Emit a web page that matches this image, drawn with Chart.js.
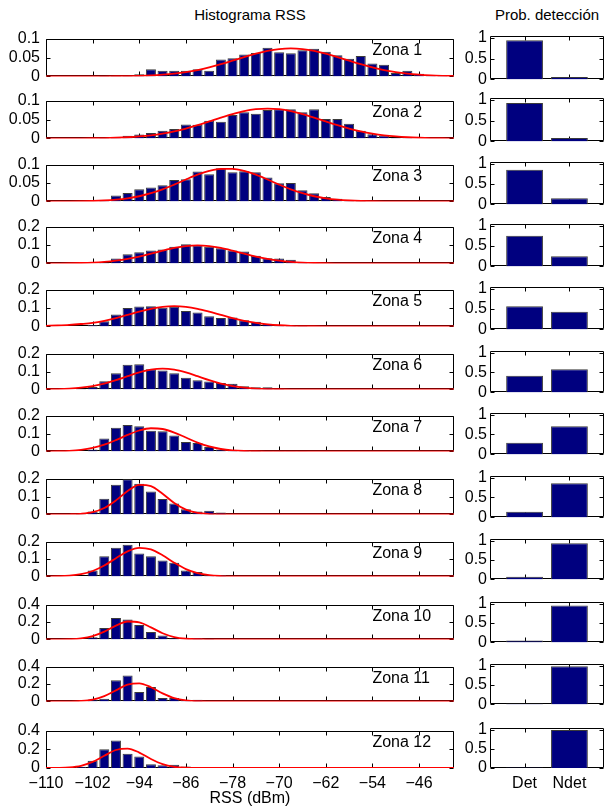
<!DOCTYPE html>
<html>
<head>
<meta charset="utf-8">
<script src="https://cdn.jsdelivr.net/npm/chart.js@4.4.1/dist/chart.umd.min.js"></script>
<style>
  body { margin: 0; background: #fff; width: 606px; height: 810px; position: relative; overflow: hidden; }
  canvas { position: absolute; }
  .titulo { position: absolute; top: 6px; height: 18px; line-height: 18px; text-align: center; white-space: nowrap;
            font: 15px "Liberation Sans", Arial, Helvetica, sans-serif; color: #000; }
</style>
</head>
<body>
<div class="titulo" style="left:100px;width:300px">Histograma RSS</div>
<div class="titulo" style="left:447px;width:200px">Prob. detección</div>
<script>
// Centros dos bins do histograma (dBm)
const bins = [-104, -102, -100, -98, -96, -94, -92, -90, -88, -86, -84, -82, -80, -78, -76, -74,
              -72, -70, -68, -66, -64, -62, -60, -58, -56, -54, -52, -50, -48, -46, -44, -42];

// Frequência relativa por zona (mesma ordem de bins)
const histZona1 = [0, 0, .001, .001, .001, .006, .019, .015, .015, .015, .019, .015, .045, .048, .058, .062,
                   .076, .064, .061, .069, .073, .065, .056, .047, .054, .034, .031, .009, .015, .007, .004, .002];
const histZona2 = [0, 0, .001, .004, .007, .010, .014, .020, .025, .037, .036, .047, .044, .062, .069, .065,
                   .075, .077, .077, .069, .077, .051, .051, .039, .020, .011, .008, .002, .001, 0, 0, 0];
const histZona3 = [0, 0, .002, .016, .023, .033, .038, .044, .058, .060, .081, .074, .090, .079, .082, .079,
                   .065, .049, .050, .030, .022, .012, .007, .004, .001, 0, 0, 0, 0, 0, 0, 0];
const histZona4 = [0, 0, .004, .027, .050, .060, .070, .076, .090, .104, .098, .090, .082, .070, .064, .042,
                   .028, .026, .020, .004, .001, 0, 0, 0, 0, 0, 0, 0, 0, 0, 0, 0];
const histZona5 = [0, .007, .028, .065, .100, .108, .109, .102, .107, .084, .075, .055, .045, .048, .034, .025,
                   .015, .008, .004, .002, 0, 0, 0, 0, 0, 0, 0, 0, 0, 0, 0, 0];
const histZona6 = [.002, .013, .045, .090, .138, .141, .113, .105, .090, .065, .051, .044, .036, .031, .017, .012,
                   .012, .004, 0, 0, 0, 0, 0, 0, 0, 0, 0, 0, 0, 0, 0, 0];
const histZona7 = [0, .010, .072, .132, .148, .141, .115, .112, .089, .052, .047, .024, .010, .006, .006, .002,
                   .001, .001, .001, .001, 0, 0, 0, 0, 0, 0, 0, 0, 0, 0, 0, 0];
const histZona8 = [.002, .016, .088, .165, .197, .171, .128, .086, .061, .029, .016, .021, .010, 0, 0, 0,
                   0, 0, 0, 0, 0, 0, 0, 0, 0, 0, 0, 0, 0, 0, 0, 0];
const histZona9 = [0, .034, .116, .165, .182, .132, .116, .092, .079, .034, .026, .008, .008, 0, 0, 0,
                   0, 0, 0, 0, 0, 0, 0, 0, 0, 0, 0, 0, 0, 0, 0, 0];
const histZona10 = [0, .026, .132, .247, .230, .166, .085, .045, .013, .003, .016, .008, 0, 0, 0, 0,
                    0, 0, 0, 0, 0, 0, 0, 0, 0, 0, 0, 0, 0, 0, 0, 0];
const histZona11 = [0, .021, .030, .242, .297, .108, .165, .040, .040, .019, .019, 0, 0, 0, 0, 0,
                    0, 0, 0, 0, 0, 0, 0, 0, 0, 0, 0, 0, 0, 0, 0, 0];
const histZona12 = [.013, .077, .200, .293, .152, .123, .039, .029, .035, .016, 0, 0, 0, 0, 0, 0,
                    0, 0, 0, 0, 0, 0, 0, 0, 0, 0, 0, 0, 0, 0, 0, 0];

// Pontos da curva ajustada (vermelha), lidos a cada 2 dBm
const curvaX = [-110, -108, -106, -104, -102, -100, -98, -96, -94, -92, -90, -88, -86, -84, -82, -80, -78, -76,
                -74, -72, -70, -68, -66, -64, -62, -60, -58, -56, -54, -52, -50, -48, -46, -44, -42, -40];
const ajusteZona1 = [0, 0, 0, 0, .0001, .0002, .0004, .0008, .0015, .0026, .0045, .0073, .0114, .0169, .0239, .0322, .0415, .0511,
                     .0601, .0675, .0723, .074, .0723, .0675, .0601, .0511, .0415, .0322, .0239, .0169, .0114, .0073, .0045, .0026, .0015, .0008];
const ajusteZona2 = [0, .0001, .0001, .0002, .0005, .0009, .0017, .003, .0051, .0082, .0127, .0186, .026, .035, .0449, .055, .0644, .0722,
                     .0772, .079, .0772, .0722, .0644, .055, .0449, .035, .026, .0186, .0127, .0082, .0051, .003, .0017, .0009, .0005, .0002];
const ajusteZona3 = [0, .0001, .0002, .0005, .0011, .0024, .0046, .0083, .014, .0222, .0329, .0457, .0595, .0725, .0827, .0883, .0883, .0827,
                     .0725, .0595, .0457, .0329, .0222, .014, .0083, .0046, .0024, .0011, .0005, .0002, .0001, 0, 0, 0, 0, 0];
const ajusteZona4 = [.0001, .0004, .0009, .0021, .0043, .0083, .0148, .0244, .0374, .0529, .0693, .084, .0943, .098, .0943, .084, .0693, .0529,
                     .0374, .0244, .0148, .0083, .0043, .0021, .0009, .0004, .0001, 0, 0, 0, 0, 0, 0, 0, 0, 0];
const ajusteZona5 = [.003, .005, .008, .013, .0193, .0306, .0452, .0623, .0799, .0954, .1061, .11, .1061, .0954, .0799, .0623, .0452, .0306,
                     .0193, .0113, .0062, .0031, .0015, .0007, .0003, .0001, 0, 0, 0, 0, 0, 0, 0, 0, 0, 0];
const ajusteZona6 = [.0008, .002, .0046, .0098, .0189, .0329, .0518, .0737, .0948, .1103, .116, .1103, .0948, .0737, .0518, .0329, .0189, .0098,
                     .0046, .002, .0008, .0003, .0001, 0, 0, 0, 0, 0, 0, 0, 0, 0, 0, 0, 0, 0];
const ajusteZona7 = [.0004, .0012, .0035, .0089, .0196, .0376, .063, .0919, .1168, .1294, .1251, .1054, .0774, .0495, .0276, .0134, .0057, .0021,
                     .0007, .0002, 0, 0, 0, 0, 0, 0, 0, 0, 0, 0, 0, 0, 0, 0, 0, 0];
const ajusteZona8 = [0, .0001, .0006, .0032, .0122, .0356, .0783, .1306, .1652, .1584, .1152, .0636, .0266, .0084, .002, .0004, .0001, 0,
                     0, 0, 0, 0, 0, 0, 0, 0, 0, 0, 0, 0, 0, 0, 0, 0, 0, 0];
const ajusteZona9 = [.0003, .0012, .0043, .0128, .0311, .0627, .1044, .144, .1644, .1553, .1215, .0786, .0421, .0187, .0069, .0021, .0005, .0001,
                     0, 0, 0, 0, 0, 0, 0, 0, 0, 0, 0, 0, 0, 0, 0, 0, 0, 0];
const ajusteZona10 = [0, .0004, .0025, .0113, .0372, .0895, .1585, .206, .1967, .138, .071, .0268, .0074, .0015, .0002, 0, 0, 0,
                      0, 0, 0, 0, 0, 0, 0, 0, 0, 0, 0, 0, 0, 0, 0, 0, 0, 0];
const ajusteZona11 = [0, .0001, .0009, .0053, .021, .0611, .1274, .1916, .2079, .1627, .0918, .0375, .011, .0023, .0004, .0001, 0, 0,
                      0, 0, 0, 0, 0, 0, 0, 0, 0, 0, 0, 0, 0, 0, 0, 0, 0, 0];
const ajusteZona12 = [.0002, .0013, .0065, .024, .0653, .1309, .1925, .208, .165, .0961, .0411, .0129, .003, .0005, .0001, 0, 0, 0,
                      0, 0, 0, 0, 0, 0, 0, 0, 0, 0, 0, 0, 0, 0, 0, 0, 0, 0];

// Probabilidade de detecção por zona
const probLabels = ['Det', 'Ndet'];
const probDet  = [0.94, 0.92, 0.85, 0.75, 0.57, 0.42, 0.29, 0.14, 0.07, 0.05, 0.02, 0.01];
const probNdet = [0.06, 0.08, 0.15, 0.25, 0.43, 0.58, 0.71, 0.86, 0.93, 0.95, 0.98, 0.99];

// Rótulos das zonas e marcas dos eixos
const nomesZonas = ['Zona 1', 'Zona 2', 'Zona 3', 'Zona 4', 'Zona 5', 'Zona 6',
                    'Zona 7', 'Zona 8', 'Zona 9', 'Zona 10', 'Zona 11', 'Zona 12'];
const rssTicks = [-110, -102, -94, -86, -78, -70, -62, -54, -46];
const ticksY01 = [0, 0.05, 0.1];
const ticksY02 = [0, 0.1, 0.2];
const ticksY04 = [0, 0.2, 0.4];
const probTicks = [0, 0.5, 1];

const histogramas = [histZona1, histZona2, histZona3, histZona4, histZona5, histZona6,
                     histZona7, histZona8, histZona9, histZona10, histZona11, histZona12];
const ajustes = [ajusteZona1, ajusteZona2, ajusteZona3, ajusteZona4, ajusteZona5, ajusteZona6,
                 ajusteZona7, ajusteZona8, ajusteZona9, ajusteZona10, ajusteZona11, ajusteZona12];
const ticksPorZona = [ticksY01, ticksY01, ticksY01, ticksY02, ticksY02, ticksY02,
                      ticksY02, ticksY02, ticksY02, ticksY04, ticksY04, ticksY04];

const fonte = '"Liberation Sans", Arial, Helvetica, sans-serif';
Chart.defaults.font.family = fonte;
Chart.defaults.color = '#000';

const azul = '#00007f';
const contorno = '#3a3a3a';

// Formata números com o sinal de menos tipográfico
function formata(v) {
    const s = String(+v.toFixed(3));
    return v < 0 ? '\u2212' + s.slice(1) : s;
}

// Caixa em volta do gráfico com marcas para dentro (estilo MATLAB)
const caixaEixos = {
    id: 'caixaEixos',
    beforeDatasetsDraw(chart) {
        const { ctx, chartArea: a } = chart;
        const x = chart.scales.x, y = chart.scales.y;
        const L = Math.round(a.left) + 0.5, R = Math.round(a.right) - 0.5;
        const T = Math.round(a.top) + 0.5, B = Math.round(a.bottom) - 0.5;
        const tam = 4;
        ctx.save();
        ctx.strokeStyle = '#000';
        ctx.lineWidth = 1;
        ctx.beginPath();
        ctx.rect(L, T, R - L, B - T);
        x.ticks.forEach(t => {
            const px = Math.round(x.getPixelForValue(t.value)) + 0.5;
            ctx.moveTo(px, B); ctx.lineTo(px, B - tam);
            ctx.moveTo(px, T); ctx.lineTo(px, T + tam);
        });
        y.ticks.forEach(t => {
            const py = Math.round(y.getPixelForValue(t.value)) + 0.5;
            ctx.moveTo(L, py); ctx.lineTo(L + tam, py);
            ctx.moveTo(R, py); ctx.lineTo(R - tam, py);
        });
        ctx.stroke();
        ctx.restore();
    }
};

// Texto "Zona N" dentro do gráfico
const rotuloZona = {
    id: 'rotuloZona',
    afterDatasetsDraw(chart, args, opts) {
        if (!opts.texto) return;
        const { ctx, chartArea: a } = chart;
        ctx.save();
        ctx.font = '16px ' + fonte;
        ctx.fillStyle = '#000';
        ctx.textBaseline = 'middle';
        ctx.textAlign = 'left';
        ctx.fillText(opts.texto, chart.scales.x.getPixelForValue(opts.x), a.top + 12);
        ctx.restore();
    }
};

function criaCanvas(left, top, width, height) {
    const c = document.createElement('canvas');
    c.width = width; c.height = height;
    c.style.left = left + 'px'; c.style.top = top + 'px';
    c.style.width = width + 'px'; c.style.height = height + 'px';
    document.body.appendChild(c);
    return c;
}

nomesZonas.forEach((nome, i) => {
    const ultima = i === nomesZonas.length - 1;
    const base = Math.round(79.8 + 62.54 * i);
    const alturaEixo = Math.round(45 - 0.33 * i);
    const topo = base - alturaEixo;
    const padTopo = 12;
    const padBase = ultima ? 0 : 12;
    const alturaX = ultima ? 40 : 0;
    const alturaCanvas = padTopo + alturaEixo + alturaX + padBase;
    const ticksY = ticksPorZona[i];

    // Histograma RSS + curva ajustada
    const c1 = criaCanvas(0, topo - padTopo, 460, alturaCanvas);
    new Chart(c1, {
        type: 'bar',
        data: {
            datasets: [{
                type: 'line',
                data: curvaX.map((x, k) => ({ x: x, y: ajustes[i][k] })),
                borderColor: '#ff0000',
                borderWidth: 1.8,
                pointRadius: 0,
                cubicInterpolationMode: 'monotone',
                fill: false
            }, {
                type: 'bar',
                data: bins.map((x, k) => ({ x: x, y: histogramas[i][k] })).filter(p => p.y > 0),
                backgroundColor: azul,
                borderColor: contorno,
                borderWidth: 1,
                barPercentage: 1,
                categoryPercentage: 0.86
            }]
        },
        options: {
            animation: false,
            responsive: false,
            devicePixelRatio: 1,
            layout: { padding: { top: padTopo, bottom: padBase, left: 0, right: 6 } },
            plugins: {
                legend: { display: false },
                tooltip: { enabled: false },
                rotuloZona: { texto: nome, x: -54 }
            },
            scales: {
                x: {
                    type: 'linear',
                    min: -110,
                    max: -40,
                    offset: false,
                    grid: { display: false, drawTicks: false, offset: false },
                    border: { display: false },
                    ticks: { display: ultima, autoSkip: false, font: { size: 16 }, padding: 6, maxRotation: 0, callback: v => formata(v) },
                    afterBuildTicks: s => { s.ticks = rssTicks.map(v => ({ value: v })); },
                    afterFit: s => { s.height = alturaX; },
                    title: { display: ultima, text: 'RSS (dBm)', font: { size: 16 }, padding: { top: 0, bottom: 0 } }
                },
                y: {
                    min: 0,
                    max: ticksY[ticksY.length - 1],
                    grid: { display: false, drawTicks: false },
                    border: { display: false },
                    ticks: { autoSkip: false, font: { size: 16 }, padding: 6, callback: v => formata(v) },
                    afterBuildTicks: s => { s.ticks = ticksY.map(v => ({ value: v })); },
                    afterFit: s => { s.width = 46; }
                }
            }
        },
        plugins: [caixaEixos, rotuloZona]
    });

    // Probabilidade de detecção
    const c2 = criaCanvas(460, topo - padTopo, 146, alturaCanvas);
    new Chart(c2, {
        type: 'bar',
        data: {
            datasets: [{
                data: probLabels.map((_, k) => ({ x: k + 1, y: k === 0 ? probDet[i] : probNdet[i] })),
                backgroundColor: azul,
                borderColor: contorno,
                borderWidth: 1,
                barPercentage: 0.82,
                categoryPercentage: 1
            }]
        },
        options: {
            animation: false,
            responsive: false,
            devicePixelRatio: 1,
            layout: { padding: { top: padTopo, bottom: padBase, left: 0, right: 2 } },
            plugins: { legend: { display: false }, tooltip: { enabled: false } },
            scales: {
                x: {
                    type: 'linear',
                    min: 0.23,
                    max: 2.77,
                    offset: false,
                    grid: { display: false, drawTicks: false, offset: false },
                    border: { display: false },
                    ticks: { display: ultima, autoSkip: false, font: { size: 16 }, padding: 6, maxRotation: 0,
                             callback: v => probLabels[v - 1] || '' },
                    afterBuildTicks: s => { s.ticks = probLabels.map((_, k) => ({ value: k + 1 })); },
                    afterFit: s => { s.height = alturaX; }
                },
                y: {
                    min: 0,
                    max: 1.05,
                    grid: { display: false, drawTicks: false },
                    border: { display: false },
                    ticks: { autoSkip: false, font: { size: 16 }, padding: 3, callback: v => formata(v) },
                    afterBuildTicks: s => { s.ticks = probTicks.map(v => ({ value: v })); },
                    afterFit: s => { s.width = 30; }
                }
            }
        },
        plugins: [caixaEixos]
    });
});
</script>
</body>
</html>
